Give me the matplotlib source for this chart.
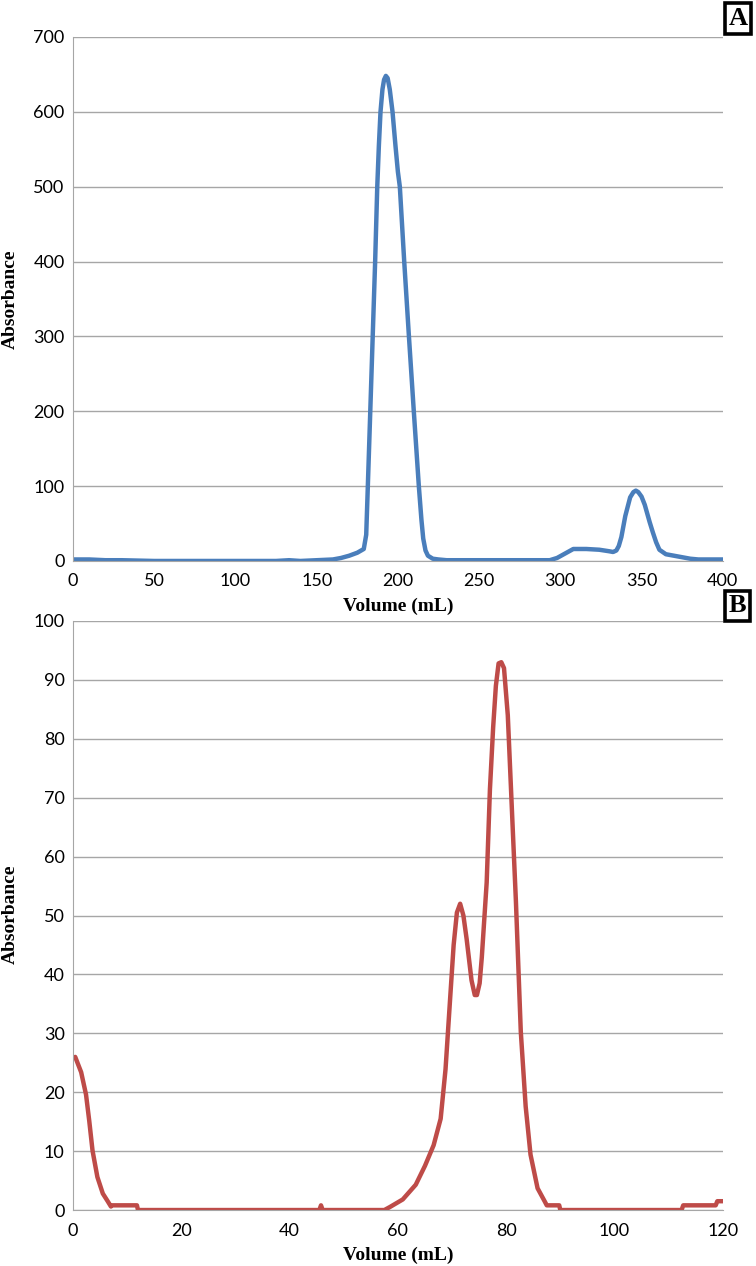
import matplotlib
matplotlib.use('Agg')
import matplotlib.pyplot as plt

# Panel A - chromatogram (volume in mL, absorbance)
vol_a = [0, 10, 20, 30, 50, 100, 125, 133, 140, 150, 160, 165, 170, 175, 179,
         180.5, 181.5, 183, 184.5, 186, 187.3, 188.3, 189.3, 190.5, 191.5, 192.6,
         193.7, 195, 196.7, 198.5, 200, 201.2, 203.9, 206.8, 209.8, 212.9, 214.5,
         215.6, 217, 218.5, 221.5, 225, 230, 250, 290, 293.5, 298, 303, 308, 316,
         324, 330, 332.5, 334.5, 336, 337.6, 340, 343, 345, 346.5, 348, 350, 352,
         355, 357, 359, 361, 365, 370, 375, 380, 385, 400]
abs_a = [2, 2, 1, 1, 0, 0, 0, 1, 0, 1, 2, 4, 7, 11, 16,
         35, 100, 200, 300, 400, 500, 555, 600, 630, 643, 648,
         645, 630, 600, 555, 520, 500, 400, 300, 200, 100, 55,
         30, 14, 7, 3, 2, 1, 1, 1, 1, 4, 10, 16, 16,
         15, 13, 12, 14, 20, 32, 60, 85, 92, 94, 92, 86, 75,
         52, 38, 25, 15, 9, 7, 5, 3, 2, 2]

# Panel B
vol_b = [0.4, 1.5, 2.4, 3.0, 3.6, 4.5, 5.5, 6.4, 7.0, 7.1, 11.8, 12.0, 45.5, 45.8,
         46.1, 57.5, 58.5, 60.9, 63.3, 65.0, 66.6, 67.9, 68.8, 69.7, 70.3, 70.9,
         71.5, 72.1, 72.7, 73.6, 74.2, 74.6, 75.1, 75.5, 76.4, 77.0, 77.6, 78.1,
         78.6, 79.1, 79.6, 80.3, 81.2, 81.8, 82.7, 83.6, 84.5, 85.8, 87.1, 87.5,
         89.8, 90.0, 112.4, 112.7, 118.7, 119.0, 120]
abs_b = [26, 23.4, 19.6, 15.1, 10.1, 5.6, 2.8, 1.5, 0.6, 0.8, 0.8, 0, 0, 0.8,
         0, 0, 0.5, 1.8, 4.3, 7.5, 11, 15.5, 23.9, 36.6, 45, 50.5,
         52, 50, 46, 39, 36.5, 36.5, 38.5, 42.9, 55.6, 71.4, 82, 89,
         92.8, 93, 92, 84, 65, 52.4, 30.3, 17.6, 9.4, 3.7, 1.5, 0.8,
         0.8, 0, 0, 0.8, 0.8, 1.5, 1.5]

fig = plt.figure(figsize=(7.56, 12.66), dpi=100)

tick_font = 'Lato'
label_font = dict(family='Liberation Serif', weight='bold', size=14)


def style_axes(ax, label_y):
    ax.spines['top'].set_visible(False)
    ax.spines['right'].set_visible(False)
    ax.spines['left'].set_color('#a6a6a6')
    ax.spines['bottom'].set_color('#a6a6a6')
    ax.grid(axis='y', color='#a6a6a6', linewidth=1)
    ax.set_axisbelow(True)
    ax.tick_params(length=0, labelsize=13, pad=6)
    ax.tick_params(axis='x', pad=9)
    for lbl in ax.get_xticklabels() + ax.get_yticklabels():
        lbl.set_family(tick_font)
    ax.set_xlabel('Volume (mL)', **label_font, labelpad=6)
    fig.text(0.013, label_y, 'Absorbance', rotation=90, ha='center',
             va='center', **label_font)


# Panel A
ax1 = fig.add_axes([0.0966, 0.5569, 0.8594, 0.4139])
ax1.plot(vol_a, abs_a, color='#4a7ebb', linewidth=3.2,
         solid_joinstyle='round', solid_capstyle='round')
ax1.set_xlim(0, 400)
ax1.set_ylim(0, 700)
ax1.set_xticks(range(0, 401, 50))
ax1.set_yticks(range(0, 701, 100))
style_axes(ax1, 0.764)

# Panel B
ax2 = fig.add_axes([0.0966, 0.0442, 0.8594, 0.4653])
ax2.plot(vol_b, abs_b, color='#be4b48', linewidth=3.2,
         solid_joinstyle='round', solid_capstyle='round')
ax2.set_xlim(0, 120)
ax2.set_ylim(0, 100)
ax2.set_xticks(range(0, 121, 20))
ax2.set_yticks(range(0, 101, 10))
style_axes(ax2, 0.278)

box = dict(boxstyle='square,pad=0.14', facecolor='white', edgecolor='black', linewidth=2.6)
fig.text(0.976, 0.9855, 'A', ha='center', va='center', family='Liberation Serif',
         weight='bold', size=19, bbox=box)
fig.text(0.976, 0.5215, 'B', ha='center', va='center', family='Liberation Serif',
         weight='bold', size=19, bbox=box)

fig.savefig('out.png', dpi=100)
